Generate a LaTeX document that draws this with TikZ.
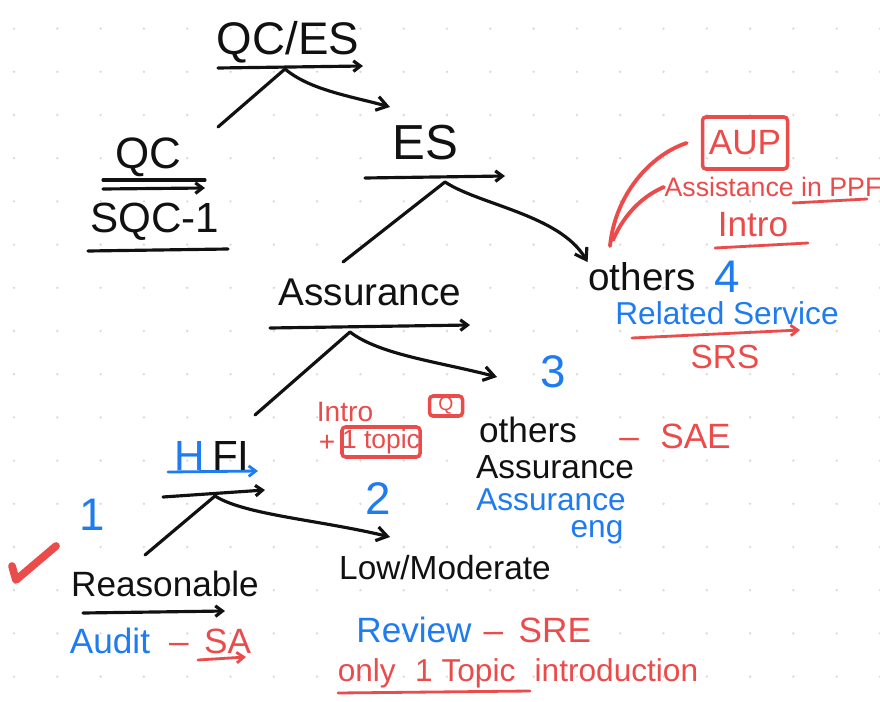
\documentclass[tikz,border=0pt]{standalone}
\usepackage{fontspec}
\setmainfont{Liberation Sans}
\usetikzlibrary{arrows.meta, positioning}
\definecolor{inkblack}{HTML}{111111}
\definecolor{inkblue}{HTML}{1E7BF0}
\definecolor{inkred}{HTML}{EA4B4B}
\definecolor{griddot}{HTML}{D9D9D9}

\begin{document}
\begin{tikzpicture}[x=0.1mm, y=-0.1mm,
    every node/.style={inner sep=0pt},
    bk/.style={text=inkblack},
    bl/.style={text=inkblue},
    rd/.style={text=inkred},
    sz/.style={font=\fontsize{#1}{#1}\selectfont},
    pen/.style={draw=inkblack, line width=0.9pt, line cap=round},
    redpen/.style={draw=inkred, line width=0.8pt, line cap=round},
    bluepen/.style={draw=inkblue, line width=0.8pt, line cap=round},
    uline/.style={pen, -{Straight Barb[length=2pt,width=3pt]}},
    branch/.style={pen, -{Straight Barb[length=3pt,width=4pt]}},
    redbox/.style={draw=inkred, line width=1pt, rounded corners=1pt}]
        \useasboundingbox (0,0) rectangle (880,701);
        \fill[white] (0,0) rectangle (880,701);
        \foreach \i in {0,...,20} \foreach \j in {0,...,15}
            \fill[griddot] (14+43.3*\i,28.6+43.2*\j) circle (1.3);
        % top
        \node[bk, sz=13] (qces) at (288,42) {QC/ES};
        \node[bk, sz=12.5] (qc) at (148,157) {QC};
        \node[bk, sz=12] (sqc) at (155,222) {SQC-1};
        \node[bk, sz=14] (es) at (425,143) {ES};
        \coordinate (qcesfork) at (285,69);
        \coordinate (qctip) at (218,127);
        \coordinate (estip) at (390,107);
        \draw[uline] (218,68) -- (363,66);
        \draw[pen] (qcesfork) -- (qctip);
        \draw[branch] (qcesfork) .. controls (310,90) and (350,96) .. (estip);
        \draw[pen] (103,180) -- (205,180);
        \draw[uline] (103,189) -- (205,188);
        \draw[pen] (88,251) -- (228,249);
        % ES branch
        \node[bk, sz=11] (assur) at (370,292) {Assurance};
        \node[bk, sz=11] (others4) at (642,277) {others};
        \node[bl, sz=13, right=5pt of others4] (four) {4};
        \coordinate (esfork) at (445,182);
        \coordinate (assurtip) at (343,262);
        \draw[uline] (365,178) -- (505,176);
        \draw[pen] (esfork) -- (assurtip);
        \draw[branch] (esfork) .. controls (480,205) and (560,215) .. (others4.north west);
        % right notes
        \node[bl, sz=9] (relserv) at (727,313) {Related Service};
        \node[rd, sz=9.5] (srs) at (725,357) {SRS};
        \node[rd, sz=10, redbox, minimum width=8.5mm, minimum height=5.2mm] (aup) at (745,143) {AUP};
        \node[rd, sz=7.6] (assist) at (773,187) {Assistance in PPF};
        \node[rd, sz=10] (intro4) at (753,225) {Intro};
        \draw[redpen, -{Straight Barb[length=2pt,width=3pt]}] (632,338) -- (800,330);
        \draw[redpen] (793,203) -- (867,199);
        \draw[redpen] (715,248) -- (808,243);
        \draw[redpen, line width=1.1pt] (610,246) .. controls (615,195) and (650,155) .. ([xshift=-4pt]aup.west);
        \draw[redpen, line width=1.1pt] (613,240) .. controls (625,212) and (645,195) .. (assist.west);
        % Assurance branch
        \node[bl, sz=13] (three) at (553,372) {3};
        \node[bk, sz=12] (hfi) at (212,456) {\textcolor{inkblue}{H}\,FI};
        \coordinate (assurfork) at (350,332);
        \coordinate (hfitip) at (255,415);
        \coordinate (otherstip) at (497,377);
        \draw[uline] (270,328) -- (470,325);
        \draw[pen] (assurfork) -- (hfitip);
        \draw[branch] (assurfork) .. controls (380,355) and (440,362) .. (otherstip);
        \node[rd, sz=8] (introL) at (345,412) {Intro};
        \node[rd, sz=8] (plus) at (327,443) {+};
        \node[rd, sz=7.5, redbox, minimum width=7.8mm, minimum height=3mm] (topic) at (381,442) {1 topic};
        \node[rd, sz=5.5, redbox, minimum width=3.3mm, minimum height=2mm] (qbox) at (446,406) {Q};
        \node[bk, sz=10] (others3) at (528,430) {others};
        \node[rd, sz=10] (sae) at (675,436) {--\,\, SAE};
        \node[bk, sz=9.5] (assur3) at (555,467) {Assurance};
        \node[bl, sz=9] (assureng) at (551,500) {Assurance};
        \node[bl, sz=9] (eng) at (597,532) {eng};
        % HFI branch
        \draw[bluepen, -{Straight Barb[length=2pt,width=3pt]}] (168,472) -- (258,471);
        \coordinate (hfifork) at (215,496);
        \coordinate (reasontip) at (145,555);
        \coordinate (lowtip) at (390,537);
        \draw[uline] (163,497) -- (265,490);
        \draw[pen] (hfifork) -- (reasontip);
        \draw[branch] (hfifork) .. controls (245,515) and (320,520) .. (lowtip);
        \node[bl, sz=13] (one) at (92,515) {1};
        \node[bl, sz=13] (two) at (378,499) {2};
        \draw[draw=inkred, line width=2.2pt, line cap=round, line join=round]
            (12,566) -- (16,580) -- (56,546);
        \node[bk, sz=10] (reason) at (165,584) {Reasonable};
        \draw[uline] (83,613) -- (225,611);
        \node[bl, sz=10] (audit) at (110,641) {Audit};
        \node[rd, sz=10, right=5pt of audit] (sa) {--\, SA};
        \draw[redpen, -{Straight Barb[length=2pt,width=3pt]}] (198,660) -- (246,657);
        \node[bk, sz=9.5] (lowmod) at (445,568) {Low/Moderate};
        \node[bl, sz=10] (review) at (414,630) {Review};
        \node[rd, sz=10, right=3pt of review] (sre) {--\, SRE};
        \node[rd, sz=9] (only) at (518,673) {only\,\, 1 Topic\,\, introduction};
        \draw[redpen] (338,693) -- (530,691);
\end{tikzpicture}
\end{document}
